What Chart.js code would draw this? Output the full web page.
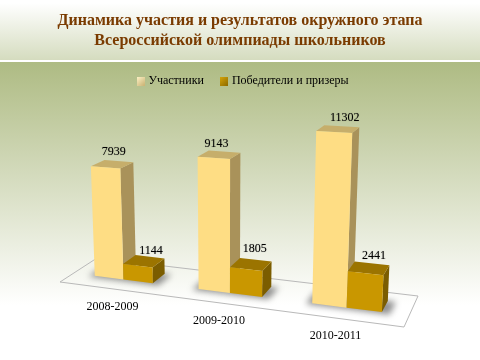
<!DOCTYPE html>
<html><head><meta charset="utf-8">
<style>html,body{margin:0;padding:0;background:#fff}canvas{display:block}</style>
<script src="https://cdn.jsdelivr.net/npm/chart.js@4"></script>
</head><body><canvas id="c" width="480" height="360"></canvas>
<script>
const categories = ['2008-2009', '2009-2010', '2010-2011'];
const participants = [7939, 9143, 11302];
const winners = [1144, 1805, 2441];
const seriesNames = ['Участники', 'Победители и призеры'];
const titleLines = ['Динамика участия и результатов окружного этапа', 'Всероссийской олимпиады школьников'];
const yMax = 12000;

// camera: floor rectangle corners on screen, vertical vanishing point, height gain
const FLOOR = {fl:[60,282], fr:[404,327], br:[418,296], bl:[97,258]};
const VANISH = [227, 4000];
const GAIN = 176;
const DEPTH = [0.35, 0.72];
// small hand offsets of the value labels around each bar's top
const LABEL_NUDGE = [[[-7,0],[-10,1],[1,1]],[[-1,3],[-3,-2],[0,2]]];

function homography(q){
  const [x0,y0]=q.fl,[x1,y1]=q.fr,[x2,y2]=q.br,[x3,y3]=q.bl;
  const dx1=x1-x2,dx2=x3-x2,sx=x0-x1+x2-x3,dy1=y1-y2,dy2=y3-y2,sy=y0-y1+y2-y3;
  const det=dx1*dy2-dx2*dy1;
  const g=(sx*dy2-dx2*sy)/det,h=(dx1*sy-sx*dy1)/det;
  return {a:x1-x0+g*x1,b:x3-x0+h*x3,c:x0,d:y1-y0+g*y1,e:y3-y0+h*y3,f:y0,g,h};
}
const H = homography(FLOOR);
function project(u,w,v){
  const t=GAIN/VANISH[1];
  const nx=H.a*u+H.b*w+H.c-t*VANISH[0]*v;
  const ny=H.d*u+H.e*w+H.f-t*VANISH[1]*v;
  const dn=H.g*u+H.h*w+1-t*v;
  return [nx/dn,ny/dn];
}
function poly(ctx,pts,fill){
  ctx.beginPath();pts.forEach((p,i)=>i?ctx.lineTo(p[0],p[1]):ctx.moveTo(p[0],p[1]));ctx.closePath();
  if(fill){ctx.fillStyle=fill;ctx.fill();}
}
function swatch(c1,c2){
  const s=document.createElement('canvas');s.width=8;s.height=9;
  const x=s.getContext('2d');const g=x.createLinearGradient(0,0,8,9);
  g.addColorStop(0,c1);g.addColorStop(1,c2);x.fillStyle=g;x.fillRect(0,0,8,9);return s;
}
const faces = [
  {front:'#fedd84', top:'#c6ae6b', side:'#a9925a'},
  {front:'#c99700', top:'#9b7400', side:'#7b5d00'}
];
const swatches = [swatch('#fff3c8','#c9b273'), swatch('#d6a40a','#8c6a00')];

const scene = {
  id:'scene',
  afterLayout(chart){ chart.legend.left+=4; chart.legend.right+=4; },
  beforeDraw(chart){
    const ctx=chart.ctx;ctx.save();
    let g=ctx.createLinearGradient(0,3,0,60);
    g.addColorStop(0,'#ffffff');g.addColorStop(1,'#d5dcbf');
    ctx.fillStyle=g;ctx.fillRect(0,0,480,60);
    ctx.fillStyle='#ffffff';ctx.fillRect(0,60,480,2);
    g=ctx.createLinearGradient(0,62,0,305);
    g.addColorStop(0,'#aebb83');g.addColorStop(1,'#ffffff');
    ctx.fillStyle=g;ctx.fillRect(0,62,480,298);
    ctx.restore();
  },
  beforeDatasetsDraw(chart){
    const ctx=chart.ctx,a=chart.chartArea;
    const U=x=>(x-a.left)/(a.right-a.left);
    ctx.save();
    // floor
    ctx.strokeStyle='#b9b9b9';ctx.lineWidth=1;
    poly(ctx,[project(0,0,0),project(1,0,0),project(1,1,0),project(0,1,0)]);ctx.stroke();
    // soft shadows under the bar groups
    const m0=chart.getDatasetMeta(0).data,m1=chart.getDatasetMeta(1).data;
    ctx.filter='blur(3px)';
    m0.forEach((b,i)=>{
      const l=U(b.x-b.width/2)-0.015,r=U(m1[i].x+m1[i].width/2)+0.022;
      poly(ctx,[project(l,DEPTH[0]-0.05,0),project(r,DEPTH[0]-0.05,0),project(r,DEPTH[1],0),project(l,DEPTH[1],0)],'rgba(85,85,85,0.65)');
    });
    ctx.filter='none';
    // cuboids
    chart.data.datasets.forEach((ds,di)=>{
      chart.getDatasetMeta(di).data.forEach((b)=>{
        const l=U(b.x-b.width/2),r=U(b.x+b.width/2);
        const v=(a.bottom-b.y)/(a.bottom-a.top);
        const [w0,w1]=DEPTH,f=faces[di];
        poly(ctx,[project(r,w0,0),project(r,w1,0),project(r,w1,v),project(r,w0,v)],f.side);
        poly(ctx,[project(l,w0,v),project(r,w0,v),project(r,w1,v),project(l,w1,v)],f.top);
        poly(ctx,[project(l,w0,0),project(r,w0,0),project(r,w0,v),project(l,w0,v)],f.front);
      });
    });
    // value labels
    ctx.fillStyle='#000';ctx.font='12px "Liberation Serif"';ctx.textAlign='center';ctx.textBaseline='alphabetic';
    ctx.shadowColor='rgba(0,0,0,0.35)';ctx.shadowBlur=1;
    chart.data.datasets.forEach((ds,di)=>{
      chart.getDatasetMeta(di).data.forEach((b,i)=>{
        const c=U(b.x);const v=(a.bottom-b.y)/(a.bottom-a.top);
        const p=project(c,DEPTH[1],v);
        const n=LABEL_NUDGE[di][i];
        ctx.fillText(String(ds.data[i]),p[0]+2+n[0],p[1]-6+n[1]);
      });
    });
    ctx.shadowColor='transparent';
    // category labels follow the floor
    const xs=chart.scales.x;
    categories.forEach((_,i)=>{
      const p=project(U(xs.getPixelForValue(i)),DEPTH[0],0);
      ctx.fillText(xs.getLabelForValue(i),p[0]-11,p[1]+31);
    });
    ctx.restore();
    return true;
  },
  beforeDatasetDraw(){ return false; }
};

new Chart(document.getElementById('c'),{
  type:'bar',
  data:{labels:categories,datasets:[
    {label:seriesNames[0],data:participants,backgroundColor:faces[0].front},
    {label:seriesNames[1],data:winners,backgroundColor:faces[1].front}
  ]},
  options:{
    responsive:false,animation:false,devicePixelRatio:1,
    layout:{padding:0},
    datasets:{bar:{categoryPercentage:0.57,barPercentage:1}},
    scales:{
      x:{display:false},
      y:{display:false,min:0,max:yMax}
    },
    plugins:{
      tooltip:{enabled:false},
      title:{display:true,text:titleLines,color:'#7a3b00',
        font:{family:'"Liberation Serif"',size:16,weight:'bold',lineHeight:1.25},
        padding:{top:11,bottom:5}},
      legend:{position:'top',
        labels:{color:'#000',font:{family:'"Liberation Serif"',size:12},padding:19,
          usePointStyle:true,pointStyleWidth:3,
          generateLabels(chart){
            return chart.data.datasets.map((d,i)=>({text:d.label,fillStyle:d.backgroundColor,
              strokeStyle:d.backgroundColor,lineWidth:0,pointStyle:swatches[i],datasetIndex:i,hidden:false}));
          }}}
    }
  },
  plugins:[scene]
});
</script></body></html>
